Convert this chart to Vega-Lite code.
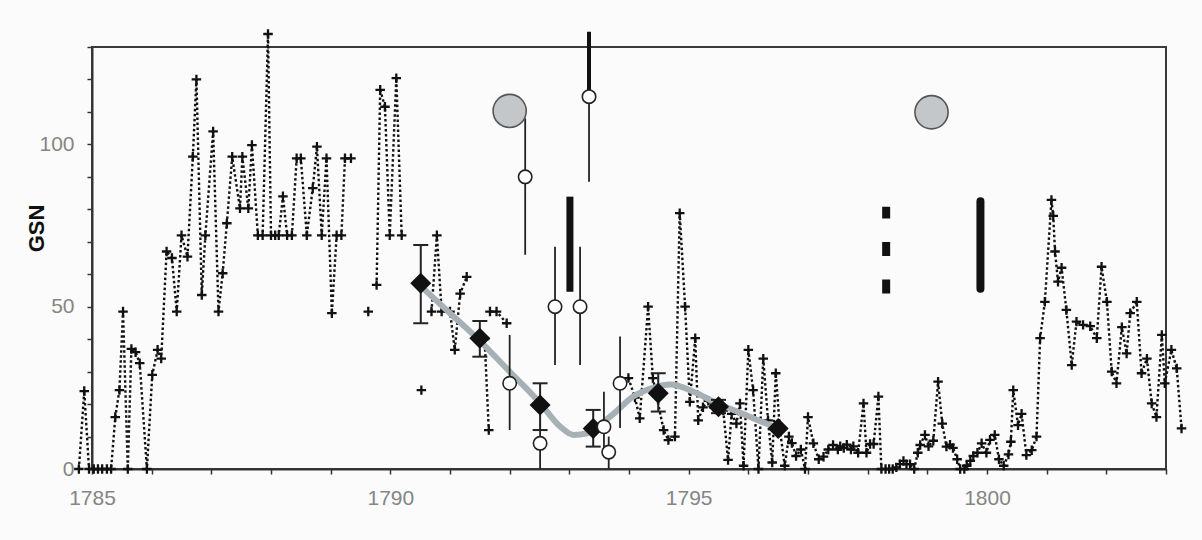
{
  "$schema": "https://vega.github.io/schema/vega-lite/v6.json",
  "width": 1074,
  "height": 422,
  "autosize": {"type": "none"},
  "padding": {"left": 92, "top": 47, "right": 36, "bottom": 71},
  "background": "#fafbfa",
  "config": {
    "view": {"stroke": "#3a3a3a", "strokeWidth": 2, "fill": "#fafbfa"},
    "axis": {
      "domainColor": "#333333", "domainWidth": 2, "tickColor": "#333333", "tickWidth": 1.5, "tickSize": 5,
      "labelColor": "#858585", "labelFont": "Liberation Sans", "labelFontSize": 21, "grid": false,
      "titleFont": "Liberation Sans", "labelOverlap": false, "labelFlush": false
    }
  },
  "datasets": {
    "monthly": [
      {"seg": 1, "yr": 1784.78, "v": 0}, {"seg": 1, "yr": 1784.87, "v": 24}, {"seg": 1, "yr": 1784.95, "v": 0},
      {"seg": 1, "yr": 1785.03, "v": 0}, {"seg": 1, "yr": 1785.1, "v": 0}, {"seg": 1, "yr": 1785.17, "v": 0},
      {"seg": 1, "yr": 1785.25, "v": 0}, {"seg": 1, "yr": 1785.32, "v": 0}, {"seg": 1, "yr": 1785.39, "v": 16},
      {"seg": 1, "yr": 1785.46, "v": 24.3}, {"seg": 1, "yr": 1785.52, "v": 48.5}, {"seg": 1, "yr": 1785.6, "v": 0},
      {"seg": 1, "yr": 1785.66, "v": 37}, {"seg": 1, "yr": 1785.73, "v": 36}, {"seg": 1, "yr": 1785.8, "v": 32.6},
      {"seg": 1, "yr": 1785.92, "v": 0}, {"seg": 1, "yr": 1786.01, "v": 29}, {"seg": 1, "yr": 1786.1, "v": 36.7},
      {"seg": 1, "yr": 1786.16, "v": 34}, {"seg": 1, "yr": 1786.25, "v": 67}, {"seg": 1, "yr": 1786.34, "v": 65},
      {"seg": 1, "yr": 1786.42, "v": 48.5}, {"seg": 1, "yr": 1786.5, "v": 72}, {"seg": 1, "yr": 1786.6, "v": 65.4},
      {"seg": 1, "yr": 1786.69, "v": 96.2}, {"seg": 1, "yr": 1786.75, "v": 120}, {"seg": 1, "yr": 1786.84, "v": 53.6},
      {"seg": 1, "yr": 1786.9, "v": 72}, {"seg": 1, "yr": 1787.03, "v": 104}, {"seg": 1, "yr": 1787.12, "v": 48.5},
      {"seg": 1, "yr": 1787.19, "v": 60.3}, {"seg": 1, "yr": 1787.26, "v": 75.7}, {"seg": 1, "yr": 1787.35, "v": 96.2},
      {"seg": 1, "yr": 1787.48, "v": 80.3}, {"seg": 1, "yr": 1787.52, "v": 96.2}, {"seg": 1, "yr": 1787.62, "v": 80.3},
      {"seg": 1, "yr": 1787.68, "v": 99.8}, {"seg": 1, "yr": 1787.78, "v": 72}, {"seg": 1, "yr": 1787.86, "v": 72},
      {"seg": 1, "yr": 1787.95, "v": 134}, {"seg": 1, "yr": 1788.0, "v": 72}, {"seg": 1, "yr": 1788.07, "v": 72},
      {"seg": 1, "yr": 1788.13, "v": 72}, {"seg": 1, "yr": 1788.2, "v": 84}, {"seg": 1, "yr": 1788.27, "v": 72},
      {"seg": 1, "yr": 1788.35, "v": 72}, {"seg": 1, "yr": 1788.43, "v": 95.7}, {"seg": 1, "yr": 1788.5, "v": 95.7},
      {"seg": 1, "yr": 1788.6, "v": 72}, {"seg": 1, "yr": 1788.7, "v": 86.5}, {"seg": 1, "yr": 1788.77, "v": 99.3},
      {"seg": 1, "yr": 1788.85, "v": 72}, {"seg": 1, "yr": 1788.93, "v": 95.7}, {"seg": 1, "yr": 1789.02, "v": 48},
      {"seg": 1, "yr": 1789.1, "v": 72}, {"seg": 1, "yr": 1789.18, "v": 72}, {"seg": 1, "yr": 1789.24, "v": 95.7},
      {"seg": 1, "yr": 1789.34, "v": 95.7},
      {"seg": 2, "yr": 1789.63, "v": 48.5},
      {"seg": 3, "yr": 1789.77, "v": 56.7}, {"seg": 3, "yr": 1789.83, "v": 116.8}, {"seg": 3, "yr": 1789.91, "v": 111.6},
      {"seg": 3, "yr": 1789.99, "v": 72}, {"seg": 3, "yr": 1790.1, "v": 120.4}, {"seg": 3, "yr": 1790.19, "v": 72},
      {"seg": 4, "yr": 1790.52, "v": 24.3},
      {"seg": 5, "yr": 1790.69, "v": 48.5}, {"seg": 5, "yr": 1790.78, "v": 72}, {"seg": 5, "yr": 1790.86, "v": 48.5},
      {"seg": 5, "yr": 1791.0, "v": 48.5}, {"seg": 5, "yr": 1791.08, "v": 36.7}, {"seg": 5, "yr": 1791.17, "v": 54},
      {"seg": 5, "yr": 1791.28, "v": 59.2},
      {"seg": 6, "yr": 1791.58, "v": 40}, {"seg": 6, "yr": 1791.65, "v": 12},
      {"seg": 7, "yr": 1791.67, "v": 48.5}, {"seg": 7, "yr": 1791.78, "v": 48.5}, {"seg": 7, "yr": 1791.95, "v": 44.9},
      {"seg": 8, "yr": 1793.99, "v": 28}, {"seg": 8, "yr": 1794.1, "v": 22}, {"seg": 8, "yr": 1794.18, "v": 15.6},
      {"seg": 8, "yr": 1794.32, "v": 50}, {"seg": 8, "yr": 1794.4, "v": 28}, {"seg": 8, "yr": 1794.58, "v": 12},
      {"seg": 8, "yr": 1794.66, "v": 8.9}, {"seg": 8, "yr": 1794.77, "v": 10}, {"seg": 8, "yr": 1794.85, "v": 78.8},
      {"seg": 8, "yr": 1794.94, "v": 50}, {"seg": 8, "yr": 1795.02, "v": 20.7}, {"seg": 8, "yr": 1795.11, "v": 40.3},
      {"seg": 8, "yr": 1795.16, "v": 15}, {"seg": 8, "yr": 1795.24, "v": 19}, {"seg": 8, "yr": 1795.33, "v": 21},
      {"seg": 8, "yr": 1795.42, "v": 19}, {"seg": 8, "yr": 1795.5, "v": 20}, {"seg": 8, "yr": 1795.58, "v": 18},
      {"seg": 8, "yr": 1795.66, "v": 2.8}, {"seg": 8, "yr": 1795.72, "v": 17}, {"seg": 8, "yr": 1795.8, "v": 14},
      {"seg": 8, "yr": 1795.86, "v": 20.2}, {"seg": 8, "yr": 1795.92, "v": 1}, {"seg": 8, "yr": 1796.0, "v": 36.7},
      {"seg": 8, "yr": 1796.08, "v": 24.3}, {"seg": 8, "yr": 1796.17, "v": 0}, {"seg": 8, "yr": 1796.25, "v": 34},
      {"seg": 8, "yr": 1796.33, "v": 15}, {"seg": 8, "yr": 1796.4, "v": 2}, {"seg": 8, "yr": 1796.46, "v": 29.5},
      {"seg": 8, "yr": 1796.53, "v": 12}, {"seg": 8, "yr": 1796.61, "v": 1}, {"seg": 8, "yr": 1796.68, "v": 10},
      {"seg": 8, "yr": 1796.73, "v": 8}, {"seg": 8, "yr": 1796.8, "v": 4}, {"seg": 8, "yr": 1796.88, "v": 6},
      {"seg": 8, "yr": 1796.95, "v": 0}, {"seg": 8, "yr": 1797.0, "v": 16}, {"seg": 8, "yr": 1797.09, "v": 7.9},
      {"seg": 8, "yr": 1797.18, "v": 3}, {"seg": 8, "yr": 1797.26, "v": 3.8}, {"seg": 8, "yr": 1797.34, "v": 6},
      {"seg": 8, "yr": 1797.42, "v": 7.4}, {"seg": 8, "yr": 1797.5, "v": 6}, {"seg": 8, "yr": 1797.54, "v": 7},
      {"seg": 8, "yr": 1797.6, "v": 6.5}, {"seg": 8, "yr": 1797.65, "v": 7.5}, {"seg": 8, "yr": 1797.72, "v": 6},
      {"seg": 8, "yr": 1797.76, "v": 7}, {"seg": 8, "yr": 1797.84, "v": 5}, {"seg": 8, "yr": 1797.93, "v": 20.2},
      {"seg": 8, "yr": 1797.98, "v": 5}, {"seg": 8, "yr": 1798.04, "v": 7.7}, {"seg": 8, "yr": 1798.1, "v": 7.7},
      {"seg": 8, "yr": 1798.18, "v": 22.3}, {"seg": 8, "yr": 1798.23, "v": 0}, {"seg": 8, "yr": 1798.3, "v": 0},
      {"seg": 8, "yr": 1798.36, "v": 0}, {"seg": 8, "yr": 1798.42, "v": 0}, {"seg": 8, "yr": 1798.48, "v": 0.5},
      {"seg": 8, "yr": 1798.54, "v": 1.5}, {"seg": 8, "yr": 1798.6, "v": 2.5}, {"seg": 8, "yr": 1798.65, "v": 1.5},
      {"seg": 8, "yr": 1798.71, "v": 1.5}, {"seg": 8, "yr": 1798.78, "v": 0}, {"seg": 8, "yr": 1798.84, "v": 5},
      {"seg": 8, "yr": 1798.88, "v": 7.4}, {"seg": 8, "yr": 1798.96, "v": 10.5}, {"seg": 8, "yr": 1799.02, "v": 7},
      {"seg": 8, "yr": 1799.1, "v": 8.7}, {"seg": 8, "yr": 1799.18, "v": 26.9}, {"seg": 8, "yr": 1799.25, "v": 14},
      {"seg": 8, "yr": 1799.32, "v": 6.9}, {"seg": 8, "yr": 1799.38, "v": 7.5}, {"seg": 8, "yr": 1799.43, "v": 6.5},
      {"seg": 8, "yr": 1799.5, "v": 3}, {"seg": 8, "yr": 1799.55, "v": 0}, {"seg": 8, "yr": 1799.62, "v": 0},
      {"seg": 8, "yr": 1799.66, "v": 1}, {"seg": 8, "yr": 1799.72, "v": 2.5}, {"seg": 8, "yr": 1799.77, "v": 4},
      {"seg": 8, "yr": 1799.84, "v": 5}, {"seg": 8, "yr": 1799.91, "v": 7.9}, {"seg": 8, "yr": 1799.99, "v": 5},
      {"seg": 8, "yr": 1800.05, "v": 9}, {"seg": 8, "yr": 1800.13, "v": 10.5}, {"seg": 8, "yr": 1800.2, "v": 3},
      {"seg": 8, "yr": 1800.28, "v": 1}, {"seg": 8, "yr": 1800.36, "v": 4.5}, {"seg": 8, "yr": 1800.4, "v": 8.4},
      {"seg": 8, "yr": 1800.44, "v": 24.3}, {"seg": 8, "yr": 1800.52, "v": 13.5}, {"seg": 8, "yr": 1800.58, "v": 17},
      {"seg": 8, "yr": 1800.66, "v": 4.3}, {"seg": 8, "yr": 1800.75, "v": 5.8}, {"seg": 8, "yr": 1800.83, "v": 10},
      {"seg": 8, "yr": 1800.89, "v": 40.3}, {"seg": 8, "yr": 1800.97, "v": 51.5}, {"seg": 8, "yr": 1801.08, "v": 82.9},
      {"seg": 8, "yr": 1801.11, "v": 78}, {"seg": 8, "yr": 1801.14, "v": 67}, {"seg": 8, "yr": 1801.19, "v": 57.7},
      {"seg": 8, "yr": 1801.25, "v": 62}, {"seg": 8, "yr": 1801.33, "v": 49}, {"seg": 8, "yr": 1801.42, "v": 32},
      {"seg": 8, "yr": 1801.5, "v": 45.4}, {"seg": 8, "yr": 1801.61, "v": 44.4}, {"seg": 8, "yr": 1801.73, "v": 44},
      {"seg": 8, "yr": 1801.84, "v": 40.3}, {"seg": 8, "yr": 1801.92, "v": 62.3}, {"seg": 8, "yr": 1802.01, "v": 51.5},
      {"seg": 8, "yr": 1802.09, "v": 30}, {"seg": 8, "yr": 1802.17, "v": 26.4}, {"seg": 8, "yr": 1802.26, "v": 43.7},
      {"seg": 8, "yr": 1802.34, "v": 35.6}, {"seg": 8, "yr": 1802.4, "v": 48}, {"seg": 8, "yr": 1802.51, "v": 51.5},
      {"seg": 8, "yr": 1802.59, "v": 29.5}, {"seg": 8, "yr": 1802.68, "v": 34}, {"seg": 8, "yr": 1802.76, "v": 20.2},
      {"seg": 8, "yr": 1802.84, "v": 16}, {"seg": 8, "yr": 1802.93, "v": 41.3}, {"seg": 8, "yr": 1802.98, "v": 26.4},
      {"seg": 8, "yr": 1803.09, "v": 36.7}, {"seg": 8, "yr": 1803.18, "v": 31}, {"seg": 8, "yr": 1803.26, "v": 12.5}
    ],
    "curve": [
      {"yr": 1790.5, "v": 56.5}, {"yr": 1791.0, "v": 48}, {"yr": 1791.5, "v": 39.5}, {"yr": 1792.0, "v": 30},
      {"yr": 1792.5, "v": 20.5}, {"yr": 1792.85, "v": 13}, {"yr": 1793.07, "v": 10.5}, {"yr": 1793.3, "v": 11},
      {"yr": 1793.5, "v": 13.5}, {"yr": 1793.74, "v": 17}, {"yr": 1794.07, "v": 22.3}, {"yr": 1794.4, "v": 25},
      {"yr": 1794.69, "v": 26}, {"yr": 1795.08, "v": 23.8}, {"yr": 1795.5, "v": 20}, {"yr": 1795.75, "v": 18.2},
      {"yr": 1796.1, "v": 15.5}, {"yr": 1796.5, "v": 12.5}
    ],
    "diamonds": [
      {"yr": 1790.51, "v": 57.2, "lo": 44.9, "hi": 69},
      {"yr": 1791.5, "v": 40.3, "lo": 34.6, "hi": 45.6},
      {"yr": 1792.51, "v": 19.7, "lo": 12, "hi": 26.4},
      {"yr": 1793.4, "v": 12.5, "lo": 6.9, "hi": 18.2},
      {"yr": 1794.49, "v": 23.3, "lo": 17.7, "hi": 29.5},
      {"yr": 1795.5, "v": 19.2, "lo": 17.2, "hi": 21.3},
      {"yr": 1796.5, "v": 12.5}
    ],
    "circles": [
      {"yr": 1792.0, "v": 26.4, "lo": 12, "hi": 41.3},
      {"yr": 1792.26, "v": 90, "lo": 66, "hi": 108},
      {"yr": 1792.51, "v": 7.9, "lo": 0, "hi": 12},
      {"yr": 1792.76, "v": 50, "lo": 32, "hi": 68.5},
      {"yr": 1793.18, "v": 50, "lo": 32, "hi": 68.5},
      {"yr": 1793.33, "v": 114.7, "lo": 88.5, "hi": 114.7},
      {"yr": 1793.58, "v": 13, "lo": 5, "hi": 23.8},
      {"yr": 1793.66, "v": 5.2, "lo": 0, "hi": 10},
      {"yr": 1793.85, "v": 26.4, "lo": 12.6, "hi": 40.8}
    ],
    "big": [
      {"yr": 1792.0, "v": 110.3},
      {"yr": 1799.07, "v": 109.9}
    ],
    "bars": [
      {"kind": "wide", "yr": 1793.01, "lo": 54.6, "hi": 83.9},
      {"kind": "narrow", "yr": 1793.33, "lo": 114.7, "hi": 134.7},
      {"kind": "round", "yr": 1799.89, "lo": 55.5, "hi": 82.5},
      {"kind": "dashed", "yr": 1798.31, "lo": 54.1, "hi": 80.8}
    ]
  },
  "encoding": {
    "x": {
      "field": "yr", "type": "quantitative",
      "scale": {"domain": [1785, 1803], "nice": false, "zero": false},
      "axis": {
        "values": [1785, 1786, 1787, 1788, 1789, 1790, 1791, 1792, 1793, 1794, 1795, 1796, 1797, 1798, 1799, 1800, 1801, 1802, 1803],
        "format": "d", "labelExpr": "datum.value % 5 === 0 ? datum.label : ''", "title": null, "labelPadding": 13
      }
    },
    "y": {
      "field": "v", "type": "quantitative",
      "scale": {"domain": [0, 130], "nice": false},
      "axis": {
        "values": [0, 10, 20, 30, 40, 50, 60, 70, 80, 90, 100, 110, 120, 130],
        "labelExpr": "datum.value % 50 === 0 ? datum.label : ''",
        "title": "GSN", "titleFontSize": 22, "titleFontWeight": "bold", "titleColor": "#111111",
        "titleX": -56, "titleY": 181, "titleAngle": -90, "titleAlign": "center", "titleBaseline": "middle",
        "labelPadding": 13
      }
    }
  },
  "layer": [
    {
      "data": {"name": "monthly"},
      "mark": {"type": "line", "color": "#111111", "strokeWidth": 2.4, "strokeDash": [2.5, 2.5], "clip": false},
      "encoding": {"detail": {"field": "seg", "type": "nominal"}}
    },
    {
      "data": {"name": "monthly"},
      "mark": {"type": "point", "shape": "M-1,0L1,0M0,-1L0,1", "size": 90, "filled": false, "stroke": "#111111", "strokeWidth": 2.3, "opacity": 1, "clip": false}
    },
    {
      "data": {"name": "curve"},
      "mark": {"type": "line", "color": "#a7b0b5", "strokeWidth": 6, "interpolate": "monotone", "strokeCap": "round"}
    },
    {
      "data": {"name": "circles"},
      "transform": [{"fold": ["lo", "hi"], "as": ["end", "v"]}],
      "mark": {"type": "line", "color": "#222222", "strokeWidth": 1.8, "clip": false},
      "encoding": {"detail": {"field": "yr", "type": "nominal"}}
    },
    {
      "data": {"name": "bars"},
      "transform": [{"filter": "datum.kind === 'wide'"}, {"fold": ["lo", "hi"], "as": ["end", "v"]}],
      "mark": {"type": "line", "color": "#111111", "strokeWidth": 7, "strokeCap": "butt", "clip": false},
      "encoding": {"detail": {"field": "yr", "type": "nominal"}}
    },
    {
      "data": {"name": "bars"},
      "transform": [{"filter": "datum.kind === 'narrow'"}, {"fold": ["lo", "hi"], "as": ["end", "v"]}],
      "mark": {"type": "line", "color": "#111111", "strokeWidth": 4, "strokeCap": "butt", "clip": false},
      "encoding": {"detail": {"field": "yr", "type": "nominal"}}
    },
    {
      "data": {"name": "bars"},
      "transform": [{"filter": "datum.kind === 'round'"}, {"fold": ["lo", "hi"], "as": ["end", "v"]}],
      "mark": {"type": "line", "color": "#111111", "strokeWidth": 8, "strokeCap": "round", "clip": false},
      "encoding": {"detail": {"field": "yr", "type": "nominal"}}
    },
    {
      "data": {"name": "bars"},
      "transform": [{"filter": "datum.kind === 'dashed'"}, {"fold": ["lo", "hi"], "as": ["end", "v"]}],
      "mark": {"type": "line", "color": "#111111", "strokeWidth": 8, "strokeCap": "butt", "strokeDash": [14, 23.5], "clip": false},
      "encoding": {"detail": {"field": "yr", "type": "nominal"}}
    },
    {
      "data": {"name": "diamonds"},
      "transform": [{"fold": ["lo", "hi"], "as": ["end", "v"]}],
      "mark": {"type": "line", "color": "#222222", "strokeWidth": 2},
      "encoding": {"detail": {"field": "yr", "type": "nominal"}}
    },
    {
      "data": {"name": "diamonds"},
      "transform": [{"fold": ["lo", "hi"], "as": ["end", "v"]}],
      "mark": {"type": "tick", "orient": "horizontal", "size": 15, "thickness": 2, "color": "#222222", "opacity": 1}
    },
    {
      "data": {"name": "diamonds"},
      "mark": {"type": "point", "shape": "diamond", "size": 441, "filled": true, "color": "#111111", "opacity": 1}
    },
    {
      "data": {"name": "circles"},
      "mark": {"type": "point", "shape": "circle", "size": 180, "filled": true, "fill": "#ffffff", "stroke": "#222222", "strokeWidth": 1.6, "opacity": 1}
    },
    {
      "data": {"name": "big"},
      "mark": {"type": "point", "shape": "circle", "size": 1100, "filled": true, "fill": "#c3c7ca", "stroke": "#555555", "strokeWidth": 1.6, "opacity": 1}
    }
  ]
}
